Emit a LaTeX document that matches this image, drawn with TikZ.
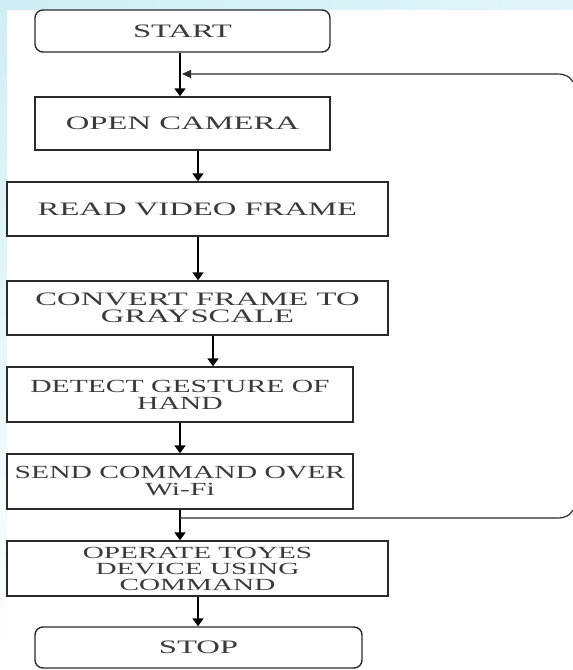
\documentclass[tikz,border=0pt]{standalone}
\usepackage{fontspec}
\newfontfamily\boxfont[FakeStretch=1.72]{Liberation Serif}
\newfontfamily\boxfontn[FakeStretch=1.6]{Liberation Serif}
\usetikzlibrary{arrows.meta}
\definecolor{txt}{HTML}{3A3A3A}
\definecolor{edge}{HTML}{2A2A2A}
\definecolor{bgc}{HTML}{CDEFF5}
\tikzset{
  box/.style={draw=edge, line width=1.4pt, fill=white, text=txt, align=center,
    inner sep=0pt, font=\boxfont\fontsize{19}{17.5}\selectfont},
  narrowbox/.style={box, font=\boxfontn\fontsize{18.5}{17}\selectfont},
  term/.style={box, rounded corners=8pt},
  arr/.style={line width=1.8pt, black, -{Triangle[width=11pt,length=8pt]}},
  fb/.style={line width=1.2pt, draw=edge, -{Triangle[width=8pt,length=9pt]}}
}
\begin{document}
\begin{tikzpicture}[x=1pt,y=-1pt]
\useasboundingbox (0,0) rectangle (573,670);
\fill[white] (0,0) rectangle (573,670);
\shade[left color=bgc, right color=bgc!60] (0,0) rectangle (573,9);
\shade[top color=bgc, bottom color=white] (0,0) rectangle (7,670);

\node[term, minimum width=295pt, minimum height=42pt] (start) at (182.5,31) {START};
\node[box, minimum width=295pt, minimum height=53pt] (open) at (182.5,123.5) {OPEN CAMERA};
\node[box, minimum width=381pt, minimum height=54pt] (read) at (197.5,209) {READ VIDEO FRAME};
\node[box, minimum width=381pt, minimum height=54pt] (conv) at (197.5,308) {CONVERT FRAME TO\\GRAYSCALE};
\node[narrowbox, minimum width=346pt, minimum height=55pt] (det) at (180,394.5) {DETECT GESTURE OF\\HAND};
\node[narrowbox, minimum width=346pt, minimum height=55pt] (send) at (180,481.5) {SEND COMMAND OVER\\Wi-Fi};
\node[box, minimum width=381pt, minimum height=55pt, font=\boxfont\fontsize{17}{16}\selectfont] (oper) at (197.5,568.5) {OPERATE TOYES\\DEVICE USING\\COMMAND};
\node[term, minimum width=327pt, minimum height=41pt] (stop) at (198.5,647.5) {STOP};

\draw[arr] ([xshift=-2.5pt]start.south) -- ([xshift=-2.5pt]open.north);
\draw[arr] ([xshift=15.5pt]open.south) -- ([xshift=0.5pt]read.north);
\draw[arr] ([xshift=0.5pt]read.south) -- ([xshift=0.5pt]conv.north);
\draw[arr] ([xshift=15.5pt]conv.south) -- ([xshift=33pt]det.north);
\draw[arr] (det.south) -- (send.north);
\draw[arr] (send.south) -- ([xshift=-17.5pt]oper.north);
\draw[arr] ([xshift=0.5pt]oper.south) -- ([xshift=-0.5pt]stop.north);

\coordinate (fbout) at (180,518);
\coordinate (fbin) at (182,74);
\coordinate (fbr1) at (573,510);
\coordinate (fbr2) at (573,82);
\draw[fb] (fbout) -- (557,518) .. controls (566,518) and (570,515) .. (fbr1)
  (fbr2) .. controls (570,77) and (566,74) .. (557,74) -- (fbin);
\end{tikzpicture}
\end{document}
